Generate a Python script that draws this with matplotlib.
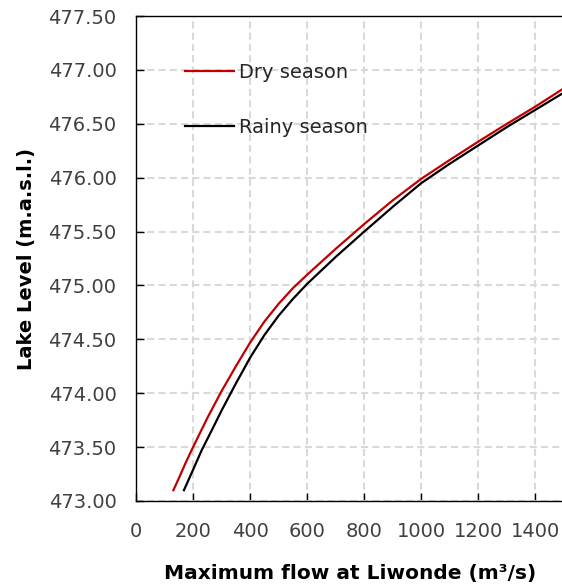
import matplotlib
matplotlib.use('Agg')
import matplotlib.pyplot as plt

# Werte
flow_dry = [131, 150, 175, 200, 250, 300, 350, 400, 450, 500, 550, 600, 700, 800, 900,
            1000, 1100, 1200, 1300, 1400, 1500]
level_dry = [473.10, 473.21, 473.36, 473.50, 473.77, 474.02, 474.25, 474.47, 474.665, 474.83,
             474.975, 475.10, 475.34, 475.57, 475.79, 475.99, 476.165, 476.335, 476.50, 476.66, 476.83]

flow_rainy = [168, 200, 230, 270, 300, 350, 400, 450, 500, 550, 600, 700, 800, 900,
              1000, 1100, 1200, 1300, 1400, 1500]
level_rainy = [473.10, 473.29, 473.47, 473.68, 473.84, 474.09, 474.33, 474.54, 474.72, 474.875,
               475.015, 475.265, 475.50, 475.73, 475.95, 476.13, 476.30, 476.47, 476.63, 476.79]

x_ticks = [0, 200, 400, 600, 800, 1000, 1200, 1400]
y_ticks = [473.0, 473.5, 474.0, 474.5, 475.0, 475.5, 476.0, 476.5, 477.0, 477.5]

plt.rcParams['font.family'] = ['DejaVu Sans']

fig = plt.figure(figsize=(5.62, 5.88), dpi=100)
ax = fig.add_axes([136 / 562, 87 / 588, 428 / 562, 485 / 588])

ax.plot(flow_dry, level_dry, color='#C00000', lw=1.6, label='Dry season')
ax.plot(flow_rainy, level_rainy, color='black', lw=1.6, label='Rainy season')

ax.set_xlim(0, 1500)
ax.set_ylim(473.0, 477.5)
ax.set_xticks(x_ticks)
ax.set_yticks(y_ticks)
ax.set_yticklabels(['%.2f' % v for v in y_ticks])

ax.grid(True, color='#d9d9d9', lw=1.5, linestyle=(0, (3.4, 2.0)))
ax.set_axisbelow(True)

ax.tick_params(axis='both', direction='in', length=6, width=1, labelsize=14,
               labelcolor='#404040')
ax.tick_params(axis='y', pad=14)
ax.tick_params(axis='x', pad=15)
ax.spines['right'].set_visible(False)
for s in ['left', 'bottom', 'top']:
    ax.spines[s].set_linewidth(1)

ax.set_xlabel('Maximum flow at Liwonde (m³/s)', fontsize=14.5, fontweight='bold', labelpad=17)
ax.set_ylabel('Lake Level (m.a.s.l.)', fontsize=14, fontweight='bold', labelpad=9)

ax.legend(loc='upper left', bbox_to_anchor=(0.1145, 0.903), frameon=False, fontsize=14,
          handlelength=2.5, handletextpad=0.3, labelspacing=1.86,
          borderpad=0, borderaxespad=0, labelcolor='#262626')

fig.savefig('out.png', dpi=100)
